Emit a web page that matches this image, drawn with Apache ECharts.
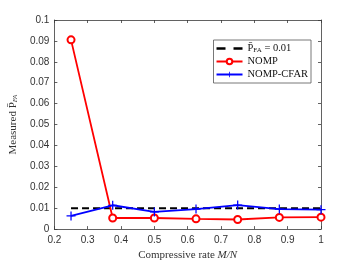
<!DOCTYPE html>
<html><head><meta charset="utf-8">
<script src="https://cdn.jsdelivr.net/npm/echarts@6/dist/echarts.min.js"></script>
<style>html,body{margin:0;padding:0;background:#fff}#c{width:354px;height:266px}</style>
</head><body><div id="c"></div>
<script>
const rates = [0.25, 0.375, 0.5, 0.625, 0.75, 0.875, 1.0];
const threshold = [0.01, 0.01, 0.01, 0.01, 0.01, 0.01, 0.01];
const nomp = [0.0905, 0.0053, 0.0053, 0.0049, 0.0046, 0.0056, 0.0057];
const nompCfar = [0.0063, 0.0114, 0.0082, 0.0096, 0.0115, 0.0096, 0.0093];
const seriesNames = ['thr', 'NOMP', 'NOMP-CFAR'];

const axisCol = '#3a3a3a';
const serif = 'Liberation Serif, Times New Roman, serif';
const tickFont = {color: '#333', fontSize: 10, fontFamily: 'Liberation Sans, Arial, sans-serif'};
const plus = 'path://M4.3,0 h1.4 v4.3 h4.3 v1.4 h-4.3 v4.3 h-1.4 v-4.3 h-4.3 v-1.4 h4.3 z';
const dashIcon = 'path://M0,4 h9 v2.4 h-9 z M17,4 h9 v2.4 h-9 z';
const pair = (xs, ys) => xs.map((x, i) => [x, ys[i]]);

const chart = echarts.init(document.getElementById('c'), null, {renderer: 'canvas'});
const baseX = {type: 'value', min: 0.2, max: 1, interval: 0.1,
  axisLine: {show: true, onZero: false, lineStyle: {color: axisCol, width: 0.8}},
  axisTick: {show: true, inside: true, length: 3, lineStyle: {color: axisCol, width: 0.8}},
  splitLine: {show: false}};
const baseY = {type: 'value', min: 0, max: 0.1, interval: 0.01,
  axisLine: {show: true, onZero: false, lineStyle: {color: axisCol, width: 0.8}},
  axisTick: {show: true, inside: true, length: 3, lineStyle: {color: axisCol, width: 0.8}},
  splitLine: {show: false}};
chart.setOption({
  animation: false,
  backgroundColor: '#fff',
  grid: {left: 47, right: 33, top: 20, bottom: 29, containLabel: false},
  xAxis: [
    Object.assign({}, baseX, {position: 'bottom',
      axisLabel: Object.assign({margin: 6}, tickFont),
      name: '{n|Compressive rate }{i|M/N}', nameLocation: 'middle', nameGap: 18,
      nameTextStyle: {rich: {
        n: {fontFamily: serif, fontSize: 11, color: '#333'},
        i: {fontFamily: serif, fontStyle: 'italic', fontSize: 11, color: '#333'}}}}),
    Object.assign({}, baseX, {position: 'top', axisLabel: {show: false}})
  ],
  yAxis: [
    Object.assign({}, baseY, {position: 'left',
      axisLabel: Object.assign({margin: 5}, tickFont),
      name: '{n|Measured P\u0304}{s|FA}', nameLocation: 'middle', nameGap: 29, nameRotate: 90,
      nameTextStyle: {rich: {
        n: {fontFamily: serif, fontSize: 11, color: '#333'},
        s: {fontFamily: serif, fontStyle: 'italic', fontSize: 7, color: '#333', verticalAlign: 'bottom', padding: [4, 0, 0, 0]}}}}),
    Object.assign({}, baseY, {position: 'right', axisLabel: {show: false}})
  ],
  legend: {
    right: 43, top: 40, orient: 'vertical', itemGap: 2, itemWidth: 26, itemHeight: 7,
    padding: [3, 3, 3, 2],
    backgroundColor: '#fff', borderColor: '#555', borderWidth: 0.8, borderRadius: 0,
    data: [{name: seriesNames[0], icon: dashIcon, itemStyle: {color: '#000'}}, seriesNames[1], seriesNames[2]],
    formatter: n => n === 'thr' ? '{a|P\u0304}{s|FA}{a| = 0.01}' : '{a|' + n + '}',
    textStyle: {rich: {
      a: {fontFamily: serif, fontSize: 10.5, color: '#111'},
      s: {fontFamily: serif, fontSize: 7, color: '#111', verticalAlign: 'bottom', padding: [4, 0, 0, 0]}}}
  },
  series: [
    {name: 'thr', type: 'line', data: pair(rates, threshold), symbol: 'none',
      lineStyle: {color: '#000', width: 2, type: [7, 4]}, itemStyle: {color: '#000'}},
    {name: 'NOMP', type: 'line', data: pair(rates, nomp), symbol: 'emptyCircle', symbolSize: 7,
      lineStyle: {color: '#ff0000', width: 1.8},
      itemStyle: {color: '#ff0000', borderColor: '#ff0000', borderWidth: 1.8}},
    {name: 'NOMP-CFAR', type: 'line', data: pair(rates, nompCfar), symbol: plus, symbolSize: 9,
      lineStyle: {color: '#0000ff', width: 1.8},
      itemStyle: {color: '#0000ff', borderWidth: 0}}
  ]
});
</script></body></html>
